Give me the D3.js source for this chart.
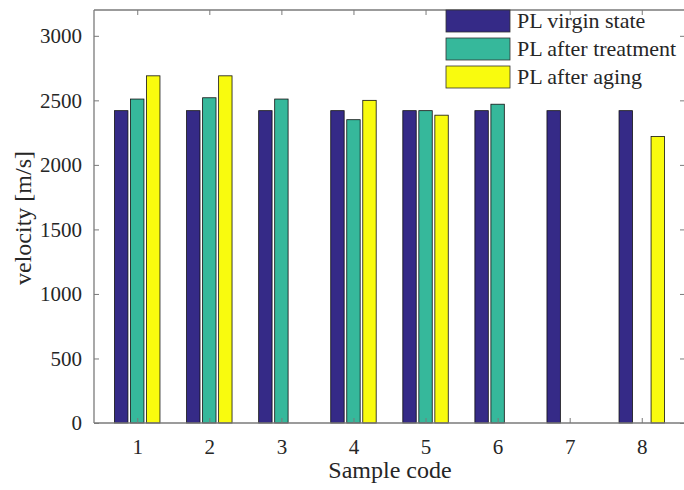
<!DOCTYPE html>
<html>
<head>
<meta charset="utf-8">
<script src="https://cdn.jsdelivr.net/npm/d3@7"></script>
<style>
  body { margin: 0; background: #fff; }
  text { font-family: "Liberation Serif", "Times New Roman", serif; fill: #262626; }
</style>
</head>
<body>
<svg id="chart"></svg>
<script>
// sample codes on the x axis
var samples = [1, 2, 3, 4, 5, 6, 7, 8];
// velocity [m/s] per series, 0 = not measured
var virgin    = [2420, 2420, 2420, 2420, 2420, 2420, 2420, 2420];
var treatment = [2510, 2520, 2510, 2350, 2420, 2470, 0, 0];
var aging     = [2690, 2690, 0, 2500, 2385, 0, 0, 2220];
var seriesNames = ["PL virgin state", "PL after treatment", "PL after aging"];
var yTicks = [0, 500, 1000, 1500, 2000, 2500, 3000];

var width = 684, height = 490;
var margin = { left: 94, right: 685, top: 10, bottom: 423 };
var colors = ["#352a87", "#36b89b", "#f9fb0e"];
var axisColor = "#7a7a7a";

var svg = d3.select("#chart").attr("width", width).attr("height", height);

var x = d3.scaleLinear().domain([0.4, 8.6]).range([margin.left, margin.right]);
var y = d3.scaleLinear().domain([0, 3200]).range([margin.bottom, margin.top]);

var series = [virgin, treatment, aging];
var offset = 0.2222, barW = 0.186;

var bars = svg.append("g");
series.forEach(function (vals, s) {
  bars.selectAll(".b" + s)
    .data(samples.map(function (d, i) { return { x: d, v: vals[i] }; }).filter(function (d) { return d.v > 0; }))
    .enter().append("rect")
    .attr("x", function (d) { return x(d.x + (s - 1) * offset - barW / 2); })
    .attr("width", x(barW) - x(0))
    .attr("y", function (d) { return y(d.v); })
    .attr("height", function (d) { return y(0) - y(d.v); })
    .attr("fill", colors[s])
    .attr("stroke", "#111")
    .attr("stroke-width", 0.8);
});

// axes: MATLAB style box with inward ticks on all four sides
var tk = 5;
var xAxis = d3.axisBottom(x).tickValues(samples).tickSize(-tk).tickPadding(16).tickFormat(d3.format("d"));
var yAxis = d3.axisLeft(y).tickValues(yTicks).tickSize(-tk).tickPadding(12).tickFormat(d3.format("d"));

var gx = svg.append("g").attr("transform", "translate(0," + margin.bottom + ")").call(xAxis);
var gy = svg.append("g").attr("transform", "translate(" + margin.left + ",0)").call(yAxis);
var gxt = svg.append("g").attr("transform", "translate(0," + margin.top + ")")
  .call(d3.axisTop(x).tickValues(samples).tickSize(-tk).tickFormat(""));
var gyr = svg.append("g").attr("transform", "translate(" + margin.right + ",0)")
  .call(d3.axisRight(y).tickValues(yTicks).tickSize(-tk).tickFormat(""));

[gx, gy, gxt, gyr].forEach(function (g) {
  g.select(".domain").attr("stroke", axisColor).attr("stroke-width", 1.3);
  g.selectAll(".tick line").attr("stroke", axisColor).attr("stroke-width", 1);
  g.selectAll(".tick text").style("font-family", "Liberation Serif").style("font-size", "21px").attr("fill", "#333");
});
// plain box edges, no outer ticks
gx.select(".domain").attr("d", "M" + margin.left + ",0H" + margin.right);
gy.select(".domain").attr("d", "M0," + margin.bottom + "V" + margin.top);
gxt.select(".domain").attr("d", "M" + margin.left + ",0H" + margin.right);
gyr.select(".domain").attr("d", "M0," + margin.bottom + "V" + margin.top);

// axis labels
svg.append("text")
  .attr("x", 390).attr("y", 478)
  .attr("text-anchor", "middle")
  .style("font-size", "24px")
  .text("Sample code");

svg.append("text")
  .attr("transform", "translate(31,218) rotate(-90)")
  .attr("text-anchor", "middle")
  .style("font-size", "24px")
  .text("velocity [m/s]");

// legend
var legend = svg.append("g").attr("transform", "translate(446,10)");
seriesNames.forEach(function (name, i) {
  var row = legend.append("g").attr("transform", "translate(0," + (i * 28) + ")");
  row.append("rect")
    .attr("width", 64).attr("height", 22)
    .attr("fill", colors[i]).attr("stroke", "#333").attr("stroke-width", 0.8);
  row.append("text")
    .attr("x", 71).attr("y", 18)
    .style("font-size", "22px")
    .text(name);
});
</script>
</body>
</html>
